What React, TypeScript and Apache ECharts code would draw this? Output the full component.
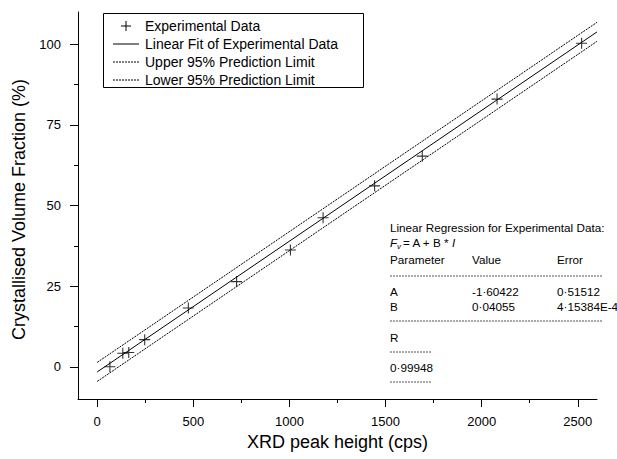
import React, { useEffect, useRef } from "react";
import * as echarts from "echarts";

// ---- data ----
const expX = [66, 133, 164, 247, 474, 725, 1005, 1175, 1443, 1691, 2080, 2520];
const expY = [0, 4.2, 4.4, 8.4, 18.2, 26.4, 36.2, 46.2, 56.1, 65.3, 83.0, 100.3];

const fitA = -1.60422;
const fitB = 0.04055;
const fitRangeX = [0, 2600];

const upperX = [0, 2600];
const upperY = [1.35, 106.8];
const lowerX = [0, 2600];
const lowerY = [-4.55, 100.9];

const xMajorTicks = [0, 500, 1000, 1500, 2000, 2500];
const xMinorTicks = [250, 750, 1250, 1750, 2250];
const yMajorTicks = [0, 25, 50, 75, 100];
const yMinorTicks = [12.5, 37.5, 62.5, 87.5];

const legendItems = [
  "Experimental Data",
  "Linear Fit of Experimental Data",
  "Upper 95% Prediction Limit",
  "Lower 95% Prediction Limit",
];

const paramRows = [
  ["Parameter", "Value", "Error"],
  ["A", "-1·60422", "0·51512"],
  ["B", "0·04055", "4·15384E-4"],
];
const rValue = "0·99948";

const FONT = "'Liberation Sans', Arial, Helvetica, sans-serif";

export default function App() {
  const ref = useRef<HTMLDivElement>(null);

  useEffect(() => {
    if (!ref.current) return;
    const chart = echarts.init(ref.current, null, { renderer: "svg" });

    const pairs = (xs: number[], ys: number[]) => xs.map((x, i) => [x, ys[i]]);
    const fitData = fitRangeX.map((x) => [x, fitA + fitB * x]);

    const plus = "path://M4.5,0H5.5V4.5H10V5.5H5.5V10H4.5V5.5H0V4.5H4.5Z";

    const txt = (x: number, y: number, text: string, extra: any = {}) => ({
      type: "text",
      x,
      y,
      style: {
        text,
        font: `11.7px ${FONT}`,
        fill: "#000",
        textVerticalAlign: "middle",
        ...extra,
      },
    });

    const dline = (x1: number, x2: number, y: number) => ({
      type: "line",
      shape: { x1, y1: y, x2, y2: y },
      style: { stroke: "#555", lineWidth: 1, lineDash: [2, 1] },
    });

    const legendRowY = [26, 44, 62, 80];

    const graphics: any[] = [
      {
        type: "rect",
        shape: { x: 103.5, y: 13.5, width: 260, height: 74 },
        style: { fill: "#fff", stroke: "#000", lineWidth: 1 },
        z: 10,
      },
      {
        type: "line",
        shape: { x1: 121, y1: legendRowY[0], x2: 131, y2: legendRowY[0] },
        style: { stroke: "#000", lineWidth: 1 },
        z: 11,
      },
      {
        type: "line",
        shape: { x1: 126, y1: legendRowY[0] - 5, x2: 126, y2: legendRowY[0] + 5 },
        style: { stroke: "#000", lineWidth: 1 },
        z: 11,
      },
      {
        type: "line",
        shape: { x1: 113, y1: legendRowY[1], x2: 139, y2: legendRowY[1] },
        style: { stroke: "#000", lineWidth: 1 },
        z: 11,
      },
      {
        type: "line",
        shape: { x1: 113, y1: legendRowY[2], x2: 139, y2: legendRowY[2] },
        style: { stroke: "#000", lineWidth: 1, lineDash: [2, 1] },
        z: 11,
      },
      {
        type: "line",
        shape: { x1: 113, y1: legendRowY[3], x2: 139, y2: legendRowY[3] },
        style: { stroke: "#000", lineWidth: 1, lineDash: [2, 1] },
        z: 11,
      },
      ...legendItems.map((t, i) => ({
        ...txt(145, legendRowY[i], t, { font: `14px ${FONT}` }),
        z: 11,
      })),
      // regression block
      txt(390, 227, "Linear Regression for Experimental Data:"),
      txt(390, 242, "F", { font: `italic 11.7px ${FONT}` }),
      txt(397, 246, "v", { font: `italic 8px ${FONT}` }),
      txt(403, 242, "= A + B * "),
      txt(452, 242, "I", { font: `italic 11.7px ${FONT}` }),
      ...paramRows.flatMap((row, r) => {
        const y = r === 0 ? 259 : r === 1 ? 291 : 306;
        return [txt(390, y, row[0]), txt(472, y, row[1]), txt(557, y, row[2])];
      }),
      dline(390, 602, 276),
      dline(390, 602, 321),
      txt(390, 337, "R"),
      dline(390, 432, 352),
      txt(390, 367, rValue),
      dline(390, 432, 382),
    ];

    const axisCommon = {
      type: "value",
      splitLine: { show: false },
    };
    const fmt = (v: number) => String(v);

    chart.setOption({
      animation: false,
      backgroundColor: "#fff",
      textStyle: { fontFamily: FONT },
      grid: { left: 78, right: 20, top: 12, bottom: 60, containLabel: false },
      xAxis: [
        {
          ...axisCommon,
          min: -100,
          max: 2600,
          position: "bottom",
          name: "XRD peak height (cps)",
          nameLocation: "middle",
          nameGap: 34,
          nameTextStyle: { fontSize: 18, color: "#000", fontFamily: FONT },
          axisLine: { show: true, onZero: false, lineStyle: { color: "#000", width: 1 } },
          axisTick: {
            show: true,
            inside: false,
            length: 8,
            customValues: xMajorTicks,
            lineStyle: { color: "#000", width: 1 },
          },
          axisLabel: {
            show: true,
            customValues: xMajorTicks,
            formatter: fmt,
            fontSize: 13,
            color: "#000",
            margin: 16,
            fontFamily: FONT,
          },
        },
        {
          ...axisCommon,
          min: -100,
          max: 2600,
          position: "bottom",
          axisLine: { show: false, onZero: false },
          axisTick: {
            show: true,
            inside: false,
            length: 4,
            customValues: xMinorTicks,
            lineStyle: { color: "#000", width: 1 },
          },
          axisLabel: { show: false },
        },
      ],
      yAxis: [
        {
          ...axisCommon,
          min: -10,
          max: 110,
          position: "left",
          name: "Crystallised Volume Fraction (%)",
          nameLocation: "middle",
          nameGap: 47,
          nameTextStyle: { fontSize: 18, color: "#000", fontFamily: FONT, padding: [0, 8, 0, 0] },
          axisLine: { show: true, onZero: false, lineStyle: { color: "#000", width: 1 } },
          axisTick: {
            show: true,
            inside: false,
            length: 8,
            customValues: yMajorTicks,
            lineStyle: { color: "#000", width: 1 },
          },
          axisLabel: {
            show: true,
            customValues: yMajorTicks,
            formatter: fmt,
            fontSize: 13,
            color: "#000",
            margin: 17,
            fontFamily: FONT,
          },
        },
        {
          ...axisCommon,
          min: -10,
          max: 110,
          position: "left",
          axisLine: { show: false, onZero: false },
          axisTick: {
            show: true,
            inside: false,
            length: 4,
            customValues: yMinorTicks,
            lineStyle: { color: "#000", width: 1 },
          },
          axisLabel: { show: false },
        },
      ],
      series: [
        {
          name: "Upper 95% Prediction Limit",
          type: "line",
          xAxisIndex: 0,
          yAxisIndex: 0,
          data: pairs(upperX, upperY),
          showSymbol: false,
          lineStyle: { color: "#000", width: 1, type: [2, 1] },
        },
        {
          name: "Lower 95% Prediction Limit",
          type: "line",
          xAxisIndex: 0,
          yAxisIndex: 0,
          data: pairs(lowerX, lowerY),
          showSymbol: false,
          lineStyle: { color: "#000", width: 1, type: [2, 1] },
        },
        {
          name: "Linear Fit of Experimental Data",
          type: "line",
          xAxisIndex: 0,
          yAxisIndex: 0,
          data: fitData,
          showSymbol: false,
          lineStyle: { color: "#000", width: 1 },
        },
        {
          name: "Experimental Data",
          type: "scatter",
          xAxisIndex: 0,
          yAxisIndex: 0,
          data: pairs(expX, expY),
          symbol: plus,
          symbolSize: 11,
          itemStyle: { color: "#000" },
          z: 5,
        },
      ],
      graphic: graphics,
    });

    return () => chart.dispose();
  }, []);

  return <div ref={ref} style={{ width: 617, height: 459, position: "absolute", left: 0, top: 0 }} />;
}
